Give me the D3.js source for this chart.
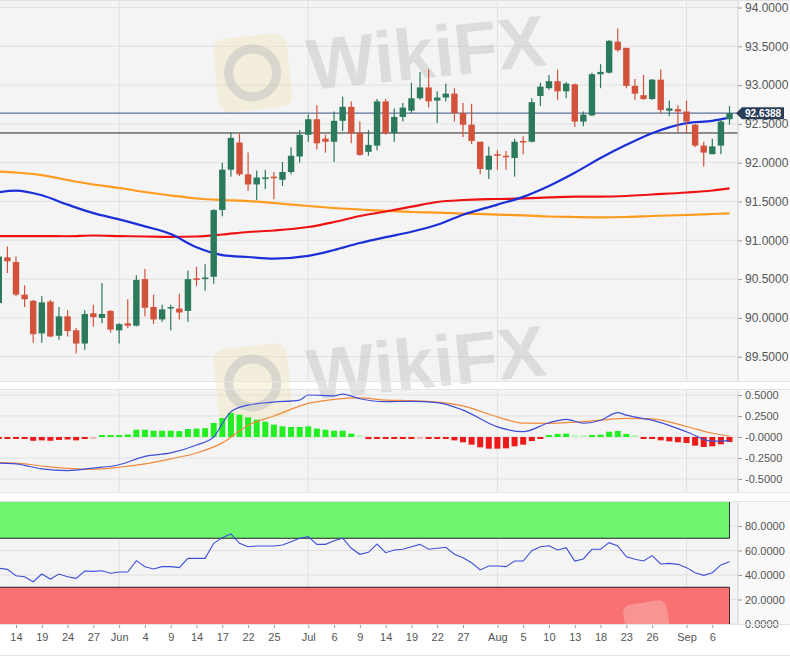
<!DOCTYPE html>
<html>
<head>
<meta charset="utf-8">
<script src="https://cdn.jsdelivr.net/npm/d3@7/dist/d3.min.js"></script>
<style>
  html, body { margin: 0; padding: 0; background: #fff; }
  svg { display: block; font-family: "Liberation Sans", Arial, sans-serif; }
</style>
</head>
<body>
<svg id="chart" width="790" height="660"></svg>
<script>
// daily candles, 12 May - 8 Sep
const dates = [
  "2021-05-12","2021-05-13","2021-05-14","2021-05-17","2021-05-18","2021-05-19","2021-05-20","2021-05-21",
  "2021-05-24","2021-05-25","2021-05-26","2021-05-27","2021-05-28","2021-05-31",
  "2021-06-01","2021-06-02","2021-06-03","2021-06-04","2021-06-07","2021-06-08","2021-06-09","2021-06-10",
  "2021-06-11","2021-06-14","2021-06-15","2021-06-16","2021-06-17","2021-06-18","2021-06-21","2021-06-22",
  "2021-06-23","2021-06-24","2021-06-25","2021-06-28","2021-06-29","2021-06-30",
  "2021-07-01","2021-07-02","2021-07-05","2021-07-06","2021-07-07","2021-07-08","2021-07-09","2021-07-12",
  "2021-07-13","2021-07-14","2021-07-15","2021-07-16","2021-07-19","2021-07-20","2021-07-21","2021-07-22",
  "2021-07-23","2021-07-26","2021-07-27","2021-07-28","2021-07-29","2021-07-30",
  "2021-08-02","2021-08-03","2021-08-04","2021-08-05","2021-08-06","2021-08-09","2021-08-10","2021-08-11",
  "2021-08-12","2021-08-13","2021-08-16","2021-08-17","2021-08-18","2021-08-19","2021-08-20","2021-08-23",
  "2021-08-24","2021-08-25","2021-08-26","2021-08-27","2021-08-30","2021-08-31",
  "2021-09-01","2021-09-02","2021-09-03","2021-09-06","2021-09-07","2021-09-08"
];
const opens = [
  90.19,90.78,90.72,90.30,90.22,89.80,90.21,89.77,90.02,89.84,89.67,90.06,90.00,90.09,
  89.84,89.93,89.90,90.50,90.14,89.98,90.12,90.12,90.09,90.51,90.50,90.53,91.39,91.91,92.26,91.85,
  91.72,91.80,91.82,91.78,91.88,92.08,
  92.36,92.56,92.31,92.27,92.54,92.72,92.38,92.14,92.22,92.79,92.38,92.59,92.67,92.83,92.97,92.80,
  92.84,92.89,92.64,92.49,92.27,91.91,
  92.11,92.09,92.06,92.28,92.27,92.86,92.96,93.05,92.92,93.01,92.53,92.61,93.14,93.16,93.56,93.48,
  92.99,92.87,92.82,93.07,92.67,92.69,
  92.66,92.49,92.22,92.11,92.22,92.56
];
const highs = [
  90.90,90.92,90.79,90.42,90.23,90.28,90.23,90.14,90.10,89.87,90.10,90.17,90.45,90.10,
  89.93,90.24,90.55,90.63,90.30,90.17,90.17,90.31,90.61,90.66,90.69,91.40,92.00,92.39,92.38,92.13,
  91.90,91.91,91.88,92.01,92.20,92.42,
  92.62,92.74,92.36,92.66,92.85,92.79,92.53,92.42,92.82,92.82,92.70,92.77,93.03,93.17,93.20,92.92,
  93.02,92.96,92.77,92.76,92.27,92.21,
  92.16,92.15,92.31,92.34,92.83,93.03,93.13,93.20,93.04,93.02,92.66,93.16,93.27,93.58,93.73,93.48,
  93.08,93.13,93.08,93.20,92.80,92.74,
  92.80,92.50,92.27,92.31,92.55,92.73
];
const lows = [
  90.15,90.58,90.28,90.14,89.68,89.68,89.75,89.72,89.76,89.54,89.59,89.89,89.93,89.81,
  89.67,89.87,89.89,90.02,89.92,89.95,89.84,89.98,89.95,90.41,90.35,90.44,91.31,91.82,91.83,91.64,
  91.52,91.66,91.53,91.70,91.85,92.00,
  92.27,92.17,92.13,92.01,92.41,92.25,92.09,92.09,92.16,92.36,92.27,92.53,92.64,92.81,92.71,92.51,
  92.79,92.53,92.33,92.24,91.85,91.79,
  91.91,91.91,91.82,92.11,92.26,92.73,92.94,92.81,92.83,92.46,92.47,92.60,92.96,93.15,93.43,92.96,
  92.81,92.81,92.81,92.63,92.60,92.40,
  92.38,92.20,91.95,92.11,92.11,92.49
];
const closes = [
  90.79,90.73,90.30,90.24,89.79,90.20,89.76,90.02,89.83,89.67,90.05,90.01,90.05,89.85,
  89.92,89.90,90.49,90.13,89.98,90.11,90.14,90.07,90.50,90.49,90.52,91.39,91.91,92.32,91.85,91.72,
  91.81,91.81,91.80,91.88,92.09,92.36,
  92.56,92.25,92.27,92.54,92.72,92.38,92.10,92.23,92.79,92.38,92.59,92.71,92.83,92.97,92.79,92.84,
  92.89,92.64,92.49,92.28,91.92,92.09,
  92.09,92.08,92.27,92.265,92.78,92.98,93.05,92.92,93.02,92.53,92.62,93.14,93.17,93.57,93.45,92.99,
  92.89,92.82,93.07,92.68,92.70,92.66,
  92.53,92.22,92.13,92.21,92.53,92.6388
];

// moving averages, read at the axis tick days
const maDates = [
  "2021-05-12","2021-05-14","2021-05-19","2021-05-24","2021-05-27","2021-06-01","2021-06-04","2021-06-09",
  "2021-06-14","2021-06-17","2021-06-22","2021-06-25","2021-07-01","2021-07-06","2021-07-09","2021-07-14",
  "2021-07-19","2021-07-22","2021-07-27","2021-08-02","2021-08-05","2021-08-10","2021-08-13","2021-08-18",
  "2021-08-23","2021-08-26","2021-09-01","2021-09-06","2021-09-08"
];
const smaBlue = [91.62,91.64,91.58,91.46,91.35,91.27,91.18,91.08,90.91,90.81,90.785,90.765,90.80,90.875,90.965,91.04,
  91.11,91.20,91.33,91.46,91.56,91.70,91.87,92.06,92.23,92.38,92.51,92.54,92.58];
const smaRed = [91.055,91.055,91.055,91.052,91.062,91.055,91.049,91.043,91.049,91.075,91.107,91.126,91.171,91.236,91.313,91.371,
  91.433,91.494,91.519,91.532,91.539,91.552,91.564,91.564,91.571,91.59,91.616,91.642,91.67];
const smaOrange = [91.887,91.874,91.841,91.777,91.719,91.674,91.622,91.577,91.539,91.519,91.506,91.481,91.442,91.416,91.397,91.378,
  91.365,91.356,91.345,91.332,91.322,91.307,91.30,91.296,91.30,91.313,91.326,91.339,91.348];

const lastPrice = 92.6388;
const levelLine = 92.383;

// MACD
const macdDates = [
  "2021-05-12","2021-05-14","2021-05-19","2021-05-24","2021-05-27","2021-06-01","2021-06-04","2021-06-09",
  "2021-06-14","2021-06-16","2021-06-17","2021-06-18","2021-06-22","2021-06-25","2021-06-30","2021-07-01",
  "2021-07-06","2021-07-07","2021-07-09","2021-07-14","2021-07-19","2021-07-22","2021-07-27","2021-08-02",
  "2021-08-05","2021-08-10","2021-08-12","2021-08-16","2021-08-18","2021-08-20","2021-08-23","2021-08-26",
  "2021-09-01","2021-09-06","2021-09-08"
];
const macdLine = [-0.31,-0.32,-0.38,-0.40,-0.37,-0.33,-0.23,-0.19,
  -0.095,0.0,0.16,0.30,0.38,0.415,0.44,0.50,
  0.49,0.51,0.455,0.42,0.425,0.41,0.32,0.12,
  0.063,0.17,0.21,0.165,0.20,0.29,0.26,0.20,
  0.063,-0.05,-0.044];
const signalLine = [-0.305,-0.31,-0.345,-0.373,-0.383,-0.36,-0.32,-0.26,-0.19,-0.07,0.14,0.25,0.40,0.448,0.465,0.44,
  0.432,0.415,0.37,0.24,0.165,0.163,0.178,0.20,0.222,0.215,0.125,0.045,0.012];
const macdHist = [
  -0.02,-0.02,-0.02,-0.02,-0.045,-0.04,-0.045,-0.035,-0.03,-0.04,-0.01,-0.005,0.01,0.01,
  0.01,0.03,0.087,0.087,0.075,0.075,0.075,0.07,0.095,0.10,0.105,0.167,0.226,0.286,0.266,0.234,
  0.206,0.183,0.147,0.127,0.119,0.119,
  0.127,0.10,0.087,0.075,0.075,0.04,0.005,-0.025,-0.02,-0.02,-0.02,-0.02,-0.015,-0.005,-0.015,-0.015,
  -0.02,-0.04,-0.063,-0.091,-0.123,-0.139,
  -0.139,-0.135,-0.111,-0.091,-0.048,-0.01,0.024,0.036,0.04,0.005,0.002,0.01,0.028,0.063,0.071,0.036,
  0.005,-0.015,-0.015,-0.04,-0.052,-0.063,
  -0.071,-0.103,-0.119,-0.111,-0.087,-0.06
];

// RSI
const rsi = [
  45.5,44.6,39.4,38.6,34.5,40.8,36.7,40.8,38.6,37.3,43.3,43.0,43.5,41.4,
  42.4,42.4,51.7,46.8,44.9,46.8,46.8,46.0,53.6,53.6,53.6,65.9,70.5,73.5,65.9,63.1,
  63.7,63.7,63.7,64.5,67.2,70.0,
  71.3,65.0,65.0,68.0,70.0,61.8,56.9,58.5,65.3,58.2,60.4,61.0,63.1,65.0,61.0,61.8,
  62.6,56.9,54.1,50.0,44.1,47.3,
  47.3,46.8,51.4,51.4,59.8,63.1,63.9,60.4,62.3,51.4,53.1,61.0,61.0,66.4,63.7,54.9,
  52.8,51.4,55.8,49.0,49.5,48.7,
  46.0,41.9,39.7,41.9,48.2,50.9
];

// axes
const tickDates = ["2021-05-14","2021-05-19","2021-05-24","2021-05-27","2021-06-01","2021-06-04","2021-06-09",
  "2021-06-14","2021-06-17","2021-06-22","2021-06-25","2021-07-01","2021-07-06","2021-07-09","2021-07-14",
  "2021-07-19","2021-07-22","2021-07-27","2021-08-02","2021-08-05","2021-08-10","2021-08-13","2021-08-18",
  "2021-08-23","2021-08-26","2021-09-01","2021-09-06"];
const tickLabels = ["14","19","24","27","Jun","4","9","14","17","22","25","Jul","6","9","14",
  "19","22","27","Aug","5","10","13","18","23","26","Sep","6"];
const monthStarts = ["2021-06-01","2021-07-01","2021-08-02","2021-09-01"];
const priceTicks = [89.5, 90, 90.5, 91, 91.5, 92, 92.5, 93, 93.5, 94];
const macdTicks = [-0.5, -0.25, 0, 0.25, 0.5];
const rsiTicks = [0, 20, 40, 60, 80];

const axisX = 738;
const main = { top: 0, bottom: 381 };
const macdP = { top: 389, bottom: 492 };
const rsiP = { top: 501, bottom: 624 };

const svg = d3.select("#chart");

const x = d3.scalePoint().domain(dates).range([-1.2, 729.5]);
const y = d3.scaleLinear().domain([89.5, 94]).range([356.7, 7.5]);
const ym = d3.scaleLinear().domain([-0.5, 0.5]).range([479, 395]);
const yr = d3.scaleLinear().domain([0, 100]).range([624, 501.5]);

const green = "#2b7a5c", red = "#d3523c";

// panel backgrounds
[main, macdP, rsiP].forEach(p => {
  svg.append("rect").attr("x", 0).attr("y", p.top).attr("width", axisX).attr("height", p.bottom - p.top)
    .attr("fill", "#f4f4f4");
  svg.append("rect").attr("x", axisX).attr("y", p.top).attr("width", 790 - axisX).attr("height", p.bottom - p.top)
    .attr("fill", "#f9f9f9");
});

const defs = svg.append("defs");
defs.append("clipPath").attr("id", "clipMain").append("rect")
  .attr("x", 0).attr("y", main.top).attr("width", axisX).attr("height", main.bottom - main.top);
defs.append("clipPath").attr("id", "clipMacd").append("rect")
  .attr("x", 0).attr("y", macdP.top).attr("width", axisX).attr("height", macdP.bottom - macdP.top);
defs.append("clipPath").attr("id", "clipRsi").append("rect")
  .attr("x", 0).attr("y", rsiP.top).attr("width", axisX).attr("height", rsiP.bottom - rsiP.top);

// grid
const grid = svg.append("g").attr("stroke", "#e1e1e1").attr("stroke-width", 1);
priceTicks.forEach(t => grid.append("line").attr("x1", 0).attr("x2", axisX).attr("y1", y(t)).attr("y2", y(t)));
macdTicks.forEach(t => grid.append("line").attr("x1", 0).attr("x2", axisX).attr("y1", ym(t)).attr("y2", ym(t)));
rsiTicks.forEach(t => grid.append("line").attr("x1", 0).attr("x2", axisX).attr("y1", yr(t)).attr("y2", yr(t)));
monthStarts.forEach(d => {
  [main, macdP, rsiP].forEach(p => grid.append("line")
    .attr("x1", x(d)).attr("x2", x(d)).attr("y1", p.top).attr("y2", p.bottom));
});

// watermark (spans panel edges like the original)
function watermark(g, tx, ty) {
  const w = g.append("g").attr("transform", `translate(${tx},${ty}) rotate(-6)`);
  w.append("rect").attr("x", 0).attr("y", 0).attr("width", 74).attr("height", 74).attr("rx", 12)
    .attr("fill", "#f2e3b0").attr("opacity", 0.35);
  w.append("circle").attr("cx", 37).attr("cy", 37).attr("r", 24).attr("fill", "none")
    .attr("stroke", "#bbb").attr("stroke-width", 9).attr("opacity", 0.45);
  w.append("text").attr("x", 92).attr("y", 60).attr("font-size", 72).attr("font-weight", "bold")
    .attr("fill", "#bdbdbd").attr("opacity", 0.42).text("WikiFX");
}
watermark(svg, 212, 40);
watermark(svg, 212, 350);

// main panel lines
const mainG = svg.append("g").attr("clip-path", "url(#clipMain)");
mainG.append("line").attr("x1", 0).attr("x2", axisX).attr("y1", y(lastPrice)).attr("y2", y(lastPrice))
  .attr("stroke", "#5d7096").attr("stroke-width", 1.3);
mainG.append("line").attr("x1", 0).attr("x2", axisX).attr("y1", y(levelLine)).attr("y2", y(levelLine))
  .attr("stroke", "#222").attr("stroke-width", 1);

const maLine = d3.line().x((d, i) => x(maDates[i])).y(d => y(d)).curve(d3.curveMonotoneX);
[[smaOrange, "#ff9a1c"], [smaRed, "#ee1212"], [smaBlue, "#1b2fd8"]].forEach(([vals, c]) => {
  mainG.append("path").attr("d", maLine(vals)).attr("fill", "none").attr("stroke", c).attr("stroke-width", 2.2);
});

// candles
const candles = mainG.append("g");
dates.forEach((d, i) => {
  const up = closes[i] >= opens[i];
  const c = up ? green : red;
  const cx = x(d);
  candles.append("line").attr("x1", cx).attr("x2", cx).attr("y1", y(highs[i])).attr("y2", y(lows[i]))
    .attr("stroke", c).attr("stroke-width", 1.2);
  const top = y(Math.max(opens[i], closes[i]));
  const h = Math.max(1.5, Math.abs(y(opens[i]) - y(closes[i])));
  candles.append("rect").attr("x", cx - 3.2).attr("y", top).attr("width", 6.4).attr("height", h).attr("fill", c);
});

// right axes
function rightAxis(scale, ticks, fmt, size, p) {
  const g = svg.append("g").attr("transform", `translate(${axisX},0)`)
    .call(d3.axisRight(scale).tickValues(ticks).tickFormat(fmt).tickSize(4).tickPadding(3));
  g.select(".domain").remove();
  g.selectAll(".tick line").attr("stroke", "#999");
  g.selectAll(".tick text").attr("fill", "#555").attr("font-size", size)
    .attr("font-family", "Liberation Sans, Arial, sans-serif");
  svg.append("line").attr("x1", axisX).attr("x2", axisX).attr("y1", p.top).attr("y2", p.bottom)
    .attr("stroke", "#d0d0d0");
}
rightAxis(y, priceTicks, d => d.toFixed(4), 12, main);
rightAxis(ym, macdTicks, d => d === 0 ? "-0.0000" : d.toFixed(4), 11, macdP);
rightAxis(yr, rsiTicks, d => d.toFixed(4), 11, rsiP);

// last price marker
const py = y(lastPrice);
svg.append("path")
  .attr("d", `M${axisX - 2},${py} L${axisX + 4},${py - 6} L${784},${py - 6} L${784},${py + 6} L${axisX + 4},${py + 6} Z`)
  .attr("fill", "#2b3e58");
svg.append("text").attr("x", 745).attr("y", py).attr("dy", "0.36em").attr("fill", "#fff")
  .attr("font-size", 10).attr("font-weight", "bold").text(lastPrice.toFixed(4));

// MACD panel
const macdG = svg.append("g").attr("clip-path", "url(#clipMacd)");
macdG.selectAll("rect.hist").data(macdHist).join("rect")
  .attr("class", "hist")
  .attr("x", (d, i) => x(dates[i]) - 3)
  .attr("width", 6)
  .attr("y", d => d >= 0 ? Math.min(ym(d), ym(0) - 2) : ym(0))
  .attr("height", d => Math.max(2, Math.abs(ym(d) - ym(0))))
  .attr("fill", d => Math.abs(d) < 0.008 ? (d >= 0 ? "#b9f5b9" : "#f5b9b9") : (d >= 0 ? "#22ee22" : "#ee1a1a"));
macdG.append("path")
  .attr("d", d3.line().x((d, i) => x(maDates[i])).y(d => ym(d)).curve(d3.curveMonotoneX)(signalLine))
  .attr("fill", "none").attr("stroke", "#f28a3c").attr("stroke-width", 1.2);
macdG.append("path")
  .attr("d", d3.line().x((d, i) => x(macdDates[i])).y(d => ym(d)).curve(d3.curveMonotoneX)(macdLine))
  .attr("fill", "none").attr("stroke", "#3d4fd8").attr("stroke-width", 1.2);

// RSI panel
const rsiG = svg.append("g").attr("clip-path", "url(#clipRsi)");
const bandEnd = x(dates[dates.length - 1]);
rsiG.append("rect").attr("x", 0).attr("y", yr(100)).attr("width", bandEnd).attr("height", yr(70) - yr(100))
  .attr("fill", "#70f570");
rsiG.append("rect").attr("x", 0).attr("y", yr(30)).attr("width", bandEnd).attr("height", yr(0) - yr(30))
  .attr("fill", "#f77171");
[70, 30].forEach(v => rsiG.append("line").attr("x1", 0).attr("x2", bandEnd).attr("y1", yr(v)).attr("y2", yr(v))
  .attr("stroke", "#222").attr("stroke-width", 1));
rsiG.append("line").attr("x1", bandEnd).attr("x2", bandEnd).attr("y1", yr(100)).attr("y2", yr(70))
  .attr("stroke", "#333").attr("stroke-width", 1);
rsiG.append("line").attr("x1", bandEnd).attr("x2", bandEnd).attr("y1", yr(30)).attr("y2", yr(0))
  .attr("stroke", "#333").attr("stroke-width", 1);
rsiG.append("rect").attr("transform", "translate(622,606) rotate(-9)")
  .attr("width", 44).attr("height", 44).attr("rx", 8).attr("fill", "#fff").attr("opacity", 0.25);
rsiG.append("path")
  .attr("d", d3.line().x((d, i) => x(dates[i])).y(d => yr(d))(rsi))
  .attr("fill", "none").attr("stroke", "#3d4fd8").attr("stroke-width", 1.1);

// bottom axis
const xAxis = svg.append("g").attr("transform", `translate(0,${rsiP.bottom})`)
  .call(d3.axisBottom(x).tickValues(tickDates).tickFormat((d, i) => tickLabels[i]).tickSize(4).tickPadding(5));
xAxis.select(".domain").remove();
xAxis.selectAll(".tick line").attr("stroke", "#999");
xAxis.selectAll(".tick text").attr("fill", "#555").attr("font-size", 11)
  .attr("font-family", "Liberation Sans, Arial, sans-serif");

// panel borders
[main, macdP, rsiP].forEach(p => {
  svg.append("line").attr("x1", 0).attr("x2", 790).attr("y1", p.bottom + 0.5).attr("y2", p.bottom + 0.5)
    .attr("stroke", "#e3e3e3");
  svg.append("line").attr("x1", 0).attr("x2", 790).attr("y1", p.top + 0.5).attr("y2", p.top + 0.5)
    .attr("stroke", "#e3e3e3");
});
svg.append("line").attr("x1", 0).attr("x2", 790).attr("y1", 655.5).attr("y2", 655.5).attr("stroke", "#e3e3e3");
</script>
</body>
</html>
